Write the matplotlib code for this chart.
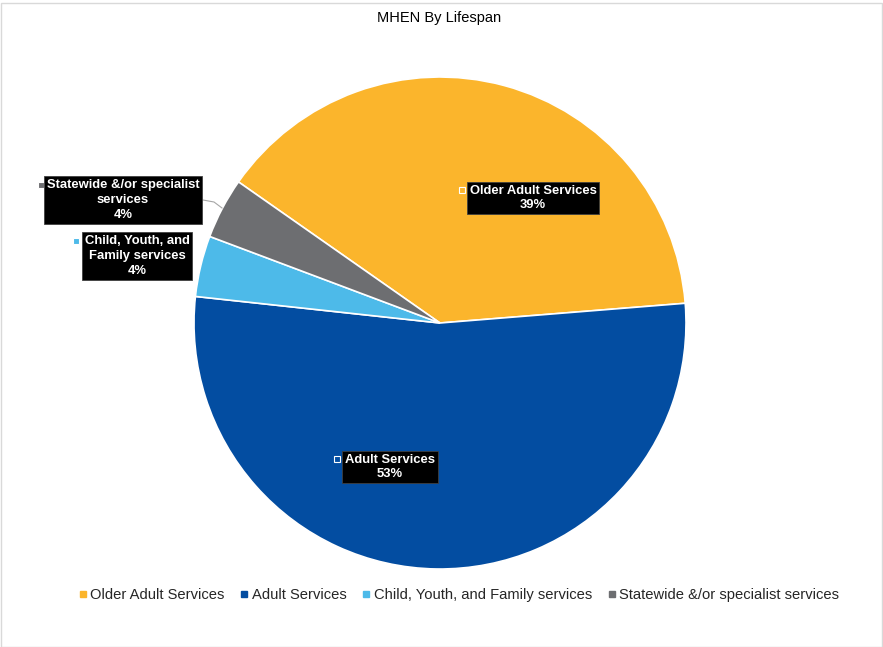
import matplotlib.pyplot as plt
from matplotlib.lines import Line2D
from matplotlib.patches import Rectangle

plt.rcParams['font.family'] = ['Liberation Sans', 'DejaVu Sans']

W, H = 883, 647

categories = ['Older Adult Services', 'Adult Services',
              'Child, Youth, and Family services',
              'Statewide &/or specialist services']
shares = [39, 53, 4, 4]
colors = ['#FBB52C', '#034DA1', '#4DBAE9', '#6D6E71']
label_text = ['Older Adult Services', 'Adult Services',
              'Child, Youth, and\nFamily services',
              'Statewide &/or specialist\nservices']

# label box anchor (center of box) and marker positions, in pixels from top-left
label_pos = [(533, 198), (390, 467), (137, 256), (123, 200)]
marker_pos = [(462, 190), (337, 459), (76, 241), (41, 185)]

fig = plt.figure(figsize=(W / 100, H / 100), dpi=100)
ax = fig.add_axes([0, 0, 1, 1])

wedges, _ = ax.pie(shares, colors=colors, startangle=145, counterclock=False,
                   center=(440, H - 323), radius=246, frame=True,
                   wedgeprops=dict(edgecolor='white', linewidth=1.2))
ax.set_xlim(0, W)
ax.set_ylim(0, H)
ax.set_aspect('equal')
ax.axis('off')

# leader line for the small statewide slice
ax.plot([203, 214, 222], [H - 200, H - 202, H - 208], color='#A6A6A6', lw=0.8)

for txt, pct, (x, y), (mx, my), c in zip(label_text, shares, label_pos,
                                          marker_pos, colors):
    ax.text(x, H - y, f'{txt}\n{pct}%', ha='center', va='center',
            multialignment='center', color='white', fontsize=9.4,
            fontweight='bold', linespacing=1.3,
            bbox=dict(boxstyle='square,pad=0.22', fc='black', ec='#404040', lw=0.6))
    ax.plot(mx, H - my, 's', ms=4.5, mfc=c, mec='white', mew=0.8)

ax.text(W / 2 - 2, H - 18, 'MHEN By Lifespan', ha='center', va='center',
        fontsize=10.5, color='black')

handles = [Line2D([], [], marker='s', ls='none', ms=4.5, color=c) for c in colors]
fig.legend(handles, categories, loc='center', bbox_to_anchor=(459 / W, 1 - 595 / H),
           ncol=4, frameon=False, fontsize=10.6, handlelength=0.5,
           handletextpad=0.25, columnspacing=1.1, labelcolor='#262626')

# thin outline of the chart area
fig.patches.append(Rectangle((1 / W, 0), 1 - 2 / W, 1 - 3 / H, transform=fig.transFigure,
                             fill=False, ec='#D9D9D9', lw=1))

fig.savefig('out.png', dpi=100)
